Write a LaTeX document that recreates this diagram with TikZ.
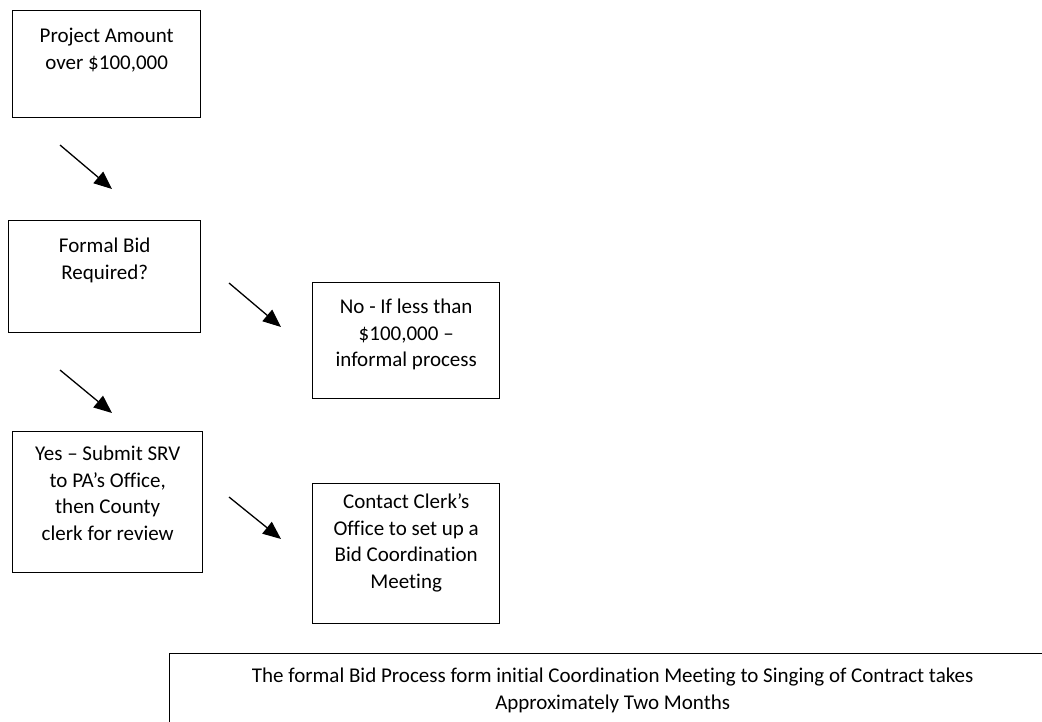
\documentclass[tikz,border=0pt]{standalone}
\usepackage{fontspec}
\setmainfont{Carlito}[RawFeature={-liga;-clig;-calt;-dlig}]
\usepackage{tikz}
\usetikzlibrary{positioning}
\usetikzlibrary{arrows.meta}

\tikzset{
  stepbox/.style={draw, black, line width=1.4pt, anchor=north west, inner sep=0pt,
    align=flush center, font=\fontsize{21}{26.5}\selectfont},
  flowarrow/.style={black, line width=1.3pt, -{Triangle[length=18pt,width=15pt]}}
}

\begin{document}
\begin{tikzpicture}[x=1pt, y=-1pt]
    \useasboundingbox (0, 0) rectangle (1042, 721);
    % boxes
    \node[stepbox, text width=188pt, text height=32pt, text depth=75pt] (amount) at (12, 10) {Project Amount\\over \$100,000};
    \node[stepbox, text width=192pt, text height=32pt, text depth=80pt] (formal) at (8, 220) {Formal Bid\\Required?};
    \node[stepbox, text width=187pt, text height=31pt, text depth=85pt] (informal) at (312, 282) {No - If less than\\\$100,000 –\\informal process};
    \node[stepbox, text width=190pt, text height=29pt, text depth=112pt] (submit) at (12, 431) {Yes – Submit SRV\\to PA’s Office,\\then County\\clerk for review};
    \node[stepbox, text width=187pt, text height=25pt, text depth=115pt] (clerk) at (312, 483) {Contact Clerk’s\\Office to set up a\\Bid Coordination\\Meeting};
    \node[stepbox, text width=886pt, text height=29pt, text depth=58pt] (note) at (169, 653) {The formal Bid Process form initial Coordination Meeting to Singing of Contract takes\\Approximately Two Months};
    % arrows
    \coordinate (a1s) at (60, 145);  \coordinate (a1e) at (112, 189);
    \coordinate (a2s) at (229, 283); \coordinate (a2e) at (281, 327);
    \coordinate (a3s) at (60, 370);  \coordinate (a3e) at (112, 413);
    \coordinate (a4s) at (229, 497); \coordinate (a4e) at (281, 539);
    \draw[flowarrow] (a1s) -- (a1e);
    \draw[flowarrow] (a2s) -- (a2e);
    \draw[flowarrow] (a3s) -- (a3e);
    \draw[flowarrow] (a4s) -- (a4e);
\end{tikzpicture}
\end{document}
